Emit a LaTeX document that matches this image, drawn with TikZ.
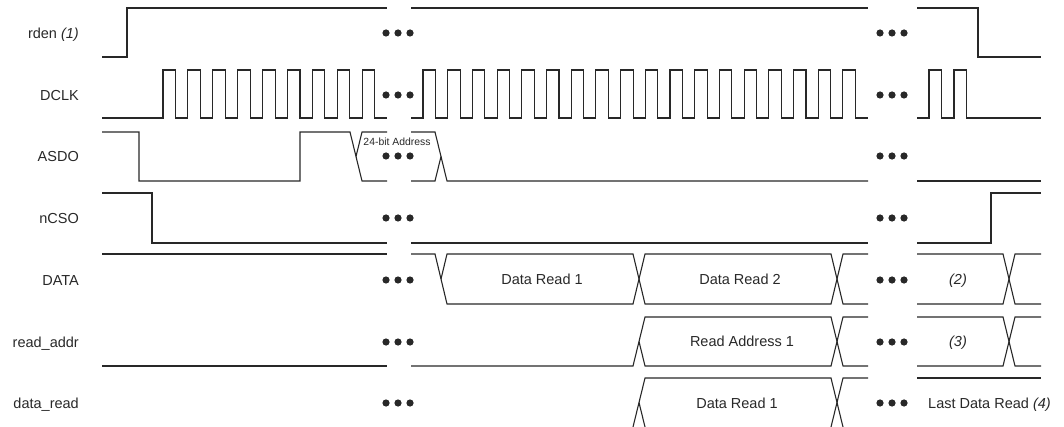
\documentclass[tikz,border=0pt]{standalone}
\usepackage{fontspec}
\setmainfont{Liberation Sans}
\usepackage{xcolor}
\definecolor{wireink}{RGB}{40,40,40}
\tikzset{
  sig/.style={draw=wireink, line width=1.1pt, line join=miter},
  siglabel/.style={anchor=base east, inner sep=0pt, text=wireink, font=\fontsize{14.5}{17}\selectfont},
  buslabel/.style={anchor=base, inner sep=0pt, text=wireink, font=\fontsize{14.5}{17}\selectfont},
  smalllabel/.style={anchor=base, inner sep=0pt, text=wireink, font=\fontsize{10.4}{12}\selectfont}
}

\begin{document}
\begin{tikzpicture}[x=1pt, y=-1pt]
  \useasboundingbox (0,0) rectangle (1064,427);

  % signal names
  \node[siglabel] (rden)  at (79,38.5)  {rden \textit{(1)}};
  \node[siglabel] (dclk)  at (79,100.5) {DCLK};
  \node[siglabel] (asdo)  at (79,162)   {ASDO};
  \node[siglabel] (ncso)  at (79,223.5) {nCSO};
  \node[siglabel] (data)  at (79,285)   {DATA};
  \node[siglabel] (raddr) at (79,347)   {read\_addr};
  \node[siglabel] (dread) at (79,408.5) {data\_read};

  % rden
  \draw[sig] (102,57) -- (127,57) -- (127,8) -- (387,8);
  \draw[sig] (411,8) -- (868,8);
  \draw[sig] (917,8) -- (978,8) -- (978,57) -- (1041,57);

  % DCLK
  \draw[sig] (102,118) foreach \k in {0,...,8} {
    -- ({163+24.9*\k},118) -- ++(0,-48) -- ++(12.5,0) -- ++(0,48) } -- (387,118);
  \draw[sig] (411,118) foreach \k in {0,...,17} {
    -- ({423+24.7*\k},118) -- ++(0,-48) -- ++(12.5,0) -- ++(0,48) } -- (868,118);
  \draw[sig] (917,118) foreach \k in {0,1} {
    -- ({929+25*\k},118) -- ++(0,-48) -- ++(12.5,0) -- ++(0,48) } -- (1041,118);

  % ASDO
  \draw[sig] (102,132) -- (139,132) -- (139,181) -- (300,181) -- (300,132)
    -- (350,132) -- (362,181) -- (387,181);
  \draw[sig] (356,156.5) -- (362,132) -- (387,132);
  \draw[sig] (411,132) -- (435,132) -- (447,181) -- (868,181);
  \draw[sig] (411,181) -- (435,181) -- (441,156.5);
  \draw[sig] (917,181) -- (1041,181);
  \node[smalllabel] (addr) at (397,146) {24-bit Address};

  % nCSO
  \draw[sig] (102,193) -- (152,193) -- (152,243) -- (387,243);
  \draw[sig] (411,243) -- (868,243);
  \draw[sig] (917,243) -- (991,243) -- (991,193) -- (1041,193);

  % DATA
  \draw[sig] (102,254) -- (387,254);
  \draw[sig] (411,254) -- (435,254) -- (447,304) -- (633,304) -- (645,254)
    -- (831,254) -- (843,304) -- (868,304);
  \draw[sig] (441,279) -- (447,254) -- (633,254) -- (645,304)
    -- (831,304) -- (843,254) -- (868,254);
  \draw[sig] (917,254) -- (1003,254) -- (1015,304) -- (1041,304);
  \draw[sig] (917,304) -- (1003,304) -- (1015,254) -- (1041,254);
  \node[buslabel] (dr1) at (542,284.5) {Data Read 1};
  \node[buslabel] (dr2) at (740,284.5) {Data Read 2};
  \node[buslabel] (n2)  at (958,284.5) {\textit{(2)}};

  % read_addr
  \draw[sig] (102,366) -- (387,366);
  \draw[sig] (411,366) -- (633,366) -- (645,317) -- (831,317) -- (843,366) -- (868,366);
  \draw[sig] (639,341.5) -- (645,366) -- (831,366) -- (843,317) -- (868,317);
  \draw[sig] (917,317) -- (1003,317) -- (1015,366) -- (1041,366);
  \draw[sig] (917,366) -- (1003,366) -- (1015,317) -- (1041,317);
  \node[buslabel] (ra1) at (742,346.5) {Read Address 1};
  \node[buslabel] (n3)  at (958,346.5) {\textit{(3)}};

  % data_read
  \draw[sig] (633,427) -- (645,378) -- (831,378) -- (843,427);
  \draw[sig] (639,402.5) -- (645,427);
  \draw[sig] (831,427) -- (843,378) -- (868,378);
  \draw[sig] (917,378) -- (1041,378);
  \node[buslabel] (rd1) at (737,408) {Data Read 1};
  \node[buslabel, anchor=base west] (last) at (928,408) {Last Data Read \textit{(4)}};

  % breaks
  \foreach \y in {33,95,156,218,280,342,403} {
    \foreach \d in {-12,0,12} {
      \fill[wireink] ({398+\d},\y) circle (3.6);
      \fill[wireink] ({892+\d},\y) circle (3.6);
    }
  }
\end{tikzpicture}
\end{document}
